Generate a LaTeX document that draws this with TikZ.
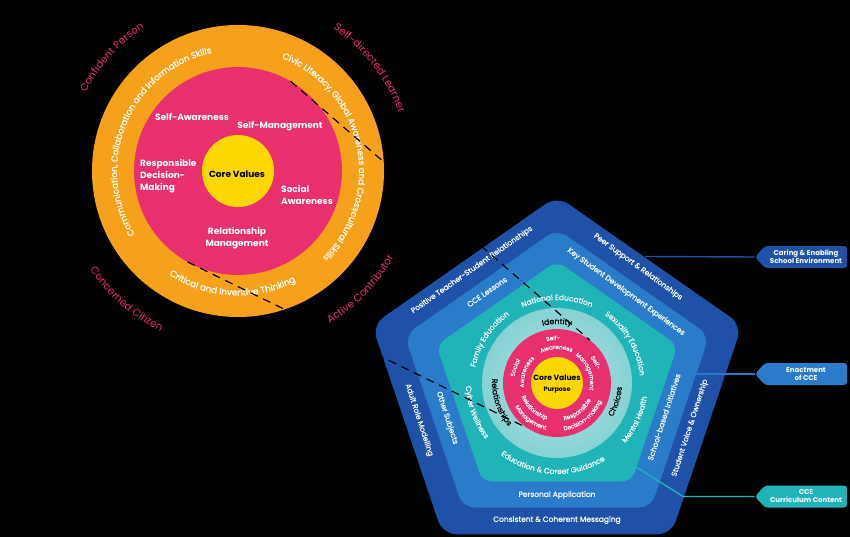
\documentclass[tikz,border=0pt]{standalone}
\usepackage{fontspec}
\setmainfont{Poppins}
\newfontfamily\medfont[FakeBold=0.6]{Poppins}
\usetikzlibrary{decorations.text,shapes.symbols,calc}
\definecolor{corange}{HTML}{F6A11C}
\definecolor{cpink}{HTML}{E9306E}
\definecolor{cyellow}{HTML}{FCD800}
\definecolor{cdblue}{HTML}{2051A8}
\definecolor{cmblue}{HTML}{2A7BC9}
\definecolor{cteal}{HTML}{20B3B7}
\definecolor{clteal}{HTML}{86D2D4}
\definecolor{clteal2}{HTML}{B2E3E3}
\newcommand\fs[1]{\fontsize{#1}{#1}\selectfont}
\newcommand\arctxt[6]{%
  \path[decorate,decoration={text along path,text align=center,text={|#5|#6}}]
    (#1) ++(#3:#2) arc[start angle=#3,end angle=#4,radius=#2];}
\tikzset{
  lbl/.style={text=white,font=\bfseries\fontsize{9}{12}\selectfont,inner sep=0pt},
  ptxt/.style={text=white,font=\medfont\fs{7.5},inner sep=0pt},
  callout/.style={signal,signal to=west,signal pointer angle=95,minimum width=92pt,
    minimum height=22pt,inner sep=0pt,align=center,text=white,rounded corners=3pt,
    font=\bfseries\fontsize{7}{8}\selectfont},
  link/.style={line width=1.4pt},
  zoomline/.style={black,line width=1.2pt,dash pattern=on 8pt off 6pt}
}
\begin{document}
\begin{tikzpicture}[x=1pt,y=1pt]
\useasboundingbox (0,0) rectangle (850,-537);
\fill[black] (0,0) rectangle (850,-537);
% ---------- left circle ----------
\coordinate (L) at (238,-171);
\fill[corange] (L) circle[radius=146];
\fill[cpink] (L) circle[radius=104];
\fill[cyellow] (L) circle[radius=36];
\arctxt{L}{121}{227}{87}{\color{white}\medfont\fs{8.7}}{Communication, Collaboration and Information Skills}
\arctxt{L}{121}{86}{-63}{\color{white}\medfont\fs{8.7}}{Civic Literacy, Global Awareness and Crosscultural Skills}
\arctxt{L}{124.5}{222}{312}{\color{white}\medfont\fs{8.9}}{Critical and Inventive Thinking}
\arctxt{L}{171}{168}{108}{\color{cpink}\fs{10.3}}{Confident Person}
\arctxt{L}{171}{68}{8}{\color{cpink}\fs{10.3}}{Self-directed Learner}
\arctxt{L}{178}{199}{259}{\color{cpink}\fs{10.3}}{Concerned Citizen}
\arctxt{L}{178}{-74}{-14}{\color{cpink}\fs{10.3}}{Active Contributor}
\node[lbl] (sa) at (192,-117) {Self-Awareness};
\node[lbl] (sm) at (280,-126) {Self-Management};
\node[lbl,anchor=west,align=left] (rdm) at (140,-176.5) {Responsible\\Decision-\\Making};
\node[lbl,text=black] (cv) at (237,-174) {Core Values};
\node[lbl,anchor=west,align=left] (soc) at (281,-195) {Social\\Awareness};
\node[lbl,align=center] (rm) at (237,-238) {Relationship\\Management};
% ---------- pentagon ----------
\coordinate (P) at (557,-383);
\begin{scope}[shift={(557,-383)},xscale=1.04]
\fill[cdblue,rounded corners=14pt] (90:187) -- (162:187) -- (234:187) -- (306:187) -- (18:187) -- cycle;
\fill[cmblue,rounded corners=12pt] (90:154) -- (162:154) -- (234:154) -- (306:154) -- (18:154) -- cycle;
\fill[cteal,rounded corners=10pt] (90:122) -- (162:122) -- (234:122) -- (306:122) -- (18:122) -- cycle;
\end{scope}
\shade[inner color=clteal2,outer color=clteal] (P) circle[radius=75];
\fill[cpink] (P) circle[radius=54];
\fill[cyellow] (P) circle[radius=26];
% teal band
\arctxt{P}{83}{130}{50}{\color{white}\medfont\fs{7.5}}{National Education}
\arctxt{P}{83}{187}{107}{\color{white}\medfont\fs{7.5}}{Family Education}
\arctxt{P}{83}{70}{-10}{\color{white}\medfont\fs{7.5}}{Sexuality Education}
\arctxt{P}{91}{-55}{5}{\color{white}\medfont\fs{7.5}}{Mental Health}
\arctxt{P}{91}{217}{317}{\color{white}\medfont\fs{7.5}}{Education {\&} Career Guidance}
\arctxt{P}{91}{170}{230}{\color{white}\medfont\fs{7.5}}{Cyber Wellness}
% light ring
\arctxt{P}{59}{125}{55}{\color{black}\medfont\fs{7.8}}{Identity}
\arctxt{P}{65}{172}{226}{\color{black}\medfont\fs{7.8}}{Relationships}
\arctxt{P}{65}{-42}{7}{\color{black}\medfont\fs{7.8}}{Choices}
% pink ring
\arctxt{P}{43}{125}{65}{\color{white}\medfont\fs{5.8}}{Self-}
\arctxt{P}{34}{146}{36}{\color{white}\medfont\fs{5.8}}{Awareness}
\arctxt{P}{42}{55}{1}{\color{white}\medfont\fs{5.8}}{Self-}
\arctxt{P}{33}{74}{-30}{\color{white}\medfont\fs{5.8}}{Management}
\arctxt{P}{43}{195}{125}{\color{white}\medfont\fs{5.8}}{Social}
\arctxt{P}{33}{215}{105}{\color{white}\medfont\fs{5.8}}{Awareness}
\arctxt{P}{38}{175}{280}{\color{white}\medfont\fs{5.8}}{Relationship}
\arctxt{P}{48}{185}{281}{\color{white}\medfont\fs{5.8}}{Management}
\arctxt{P}{38}{-105}{-1}{\color{white}\medfont\fs{5.8}}{Responsible}
\arctxt{P}{48}{-105}{1}{\color{white}\medfont\fs{5.8}}{Decision-making}
\node[font=\bfseries\fs{7.6},inner sep=0pt] (pcv) at (557,-378) {Core Values};
\node[font=\bfseries\fs{6.4},inner sep=0pt] (pp) at (557,-390.5) {Purpose};
% straight labels
\node[ptxt,rotate=35] (t1) at (472,-270) {Positive Teacher-Student Relationships};
\node[ptxt,rotate=-36] (t2) at (638,-267) {Peer Support \& Relationships};
\node[ptxt,rotate=72] (t3) at (690,-428) {Student Voice \& Ownership};
\node[ptxt] (t4) at (557,-520) {Consistent \& Coherent Messaging};
\node[ptxt,rotate=-72] (t5) at (419,-420) {Adult Role Modelling};
\node[ptxt,rotate=35] (t6) at (487,-292) {CCE Lessons};
\node[ptxt,rotate=-36] (t7) at (626,-292) {Key Student Development Experiences};
\node[ptxt,rotate=72] (t8) at (664,-417) {School-based Initiatives};
\node[ptxt] (t9) at (557,-495) {Personal Application};
\node[ptxt,rotate=-72] (t10) at (447,-418) {Other Subjects};
% callouts
\node[callout,fill=cdblue] (b1) at (806,-257) {Caring \& Enabling\\School Environment};
\node[callout,fill=cmblue] (b2) at (806,-374) {Enactment\\of CCE};
\node[callout,fill=cteal] (b3) at (806,-496.5) {CCE\\Curriculum Content};
\coordinate (c1) at (645,-256.5);
\coordinate (c2) at (692,-374);
\coordinate (c3) at (633,-465);
\coordinate (k3) at (683,-496.5);
\draw[link,cdblue] (c1) -- (b1.west);
\draw[link,cmblue] (c2) -- (b2.west);
\draw[link,cteal] (c3) -- (k3) -- (b3.west);
% zoom lines
\coordinate (d1a) at ($(L)+(59.7:104)$);
\coordinate (d1b) at ($(P)+(52.5:54)$);
\coordinate (d2a) at ($(L)+(241:104)$);
\coordinate (d2b) at ($(P)+(236:54)$);
\draw[zoomline] (d1a) -- (d1b);
\draw[zoomline] (d2a) -- (d2b);
\end{tikzpicture}
\end{document}
